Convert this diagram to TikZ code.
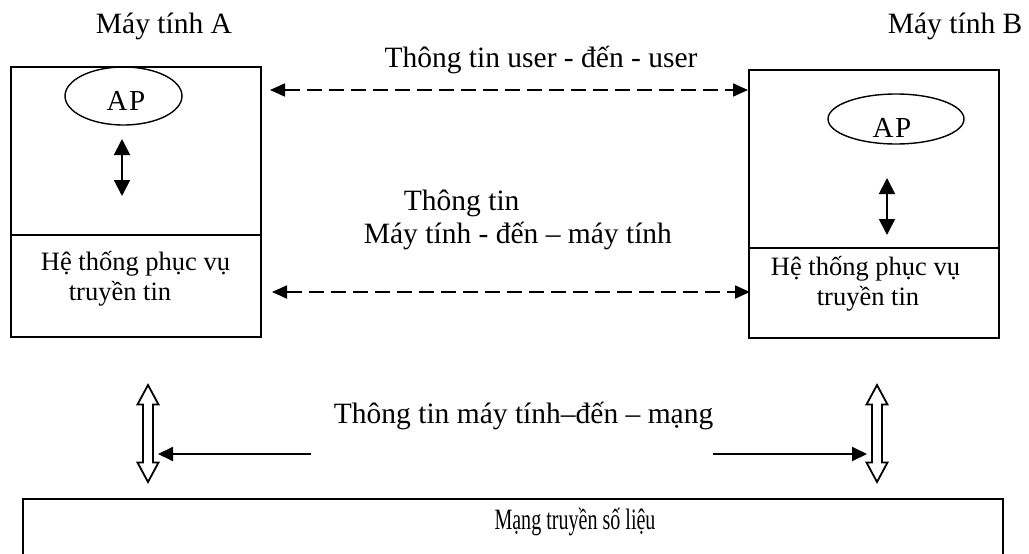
\documentclass[tikz,border=0pt]{standalone}
\usepackage{fontspec}
\usepackage{graphicx}
\setmainfont{Liberation Serif}
\usetikzlibrary{arrows.meta,shapes.geometric}
\begin{document}
\begin{tikzpicture}[x=1pt,y=-1pt, line width=1.8pt,
  txt/.style={font=\fontsize{29.5}{34}\selectfont, inner sep=0pt},
  btxt/.style={font=\fontsize{26.5}{31}\selectfont, inner sep=0pt},
  aptxt/.style={font=\fontsize{29}{33}\selectfont, inner sep=0pt},
  boxx/.style={draw, inner sep=0pt, anchor=north west},
  apell/.style={draw, ellipse, inner sep=0pt, line width=1.4pt},
  soltip/.style={-{Triangle[length=15pt,width=14pt]}},
  vtip/.style={{Triangle[length=16pt,width=16pt]}-{Triangle[length=16pt,width=16pt]}},
  dtip/.style={{Triangle[length=15pt,width=13pt]}-{Triangle[length=15pt,width=13pt]}, dash pattern=on 15pt off 7pt},
  hollowud/.pic={\draw[fill=white, line width=1.8pt, line join=miter]
     (0,-48.5) -- (10.5,-29) -- (5,-29) -- (5,29) -- (10.5,29) -- (0,48.5)
     -- (-10.5,29) -- (-5,29) -- (-5,-29) -- (-10.5,-29) -- cycle;}]
\useasboundingbox (0,0) rectangle (1029,554);
\fill[white] (0,0) rectangle (1029,554);

% boxes
\node[boxx, minimum width=250pt, minimum height=168pt] (Aup) at (10,66) {};
\node[boxx, minimum width=250pt, minimum height=102pt] (Alow) at (10,234) {};
\node[boxx, minimum width=250pt, minimum height=178pt] (Bup) at (748,69) {};
\node[boxx, minimum width=250pt, minimum height=90pt] (Blow) at (748,247) {};
\node[boxx, minimum width=980pt, minimum height=80pt] (net) at (22,498) {};

% titles
\node[txt, anchor=base] (ta) at (164,33) {Máy tính A};
\node[txt, anchor=base west] (tb) at (887,33) {Máy tính B};

% AP ellipses
\node[apell, minimum width=117pt, minimum height=58pt] (apA) at (123.5,96) {};
\node[aptxt, anchor=base] (apAt) at (126,110) {A\kern1.5pt P};
\node[apell, minimum width=136pt, minimum height=50pt] (apB) at (896,119) {};
\node[aptxt, anchor=base] (apBt) at (892,137) {A\kern1.5pt P};

% box texts
\node[btxt, anchor=base west] (sa1) at (40,270) {Hệ thống phục vụ};
\node[btxt, anchor=base] (sa2) at (120,300) {truyền tin};
\node[btxt, anchor=base west] (sb1) at (770,275) {Hệ thống phục vụ};
\node[btxt, anchor=base] (sb2) at (868,305) {truyền tin};

% middle texts
\node[txt, anchor=base] (uu) at (541,67) {Thông tin user - đến - user};
\node[txt, anchor=base west] (mm1) at (403,210) {Thông tin};
\node[txt, anchor=base west] (mm2) at (363,243) {Máy tính - đến – máy tính};
\node[txt, anchor=base west] (mn) at (333,423) {Thông tin máy tính–đến – mạng};
\node[txt, anchor=base] (nett) at (575,529) {\scalebox{0.68}[1]{Mạng truyền số liệu}};

% coordinates
\coordinate (d1a) at (270,90);  \coordinate (d1b) at (748,90);
\coordinate (d2a) at (272,292); \coordinate (d2b) at (750,292);
\coordinate (vA1) at (122,139); \coordinate (vA2) at (122,196);
\coordinate (vB1) at (887,178); \coordinate (vB2) at (887,235);
\coordinate (sL1) at (311,454); \coordinate (sL2) at (158,454);
\coordinate (sR1) at (713,454); \coordinate (sR2) at (867,454);

% connectors
\draw[dtip] (d1a) -- (d1b);
\draw[dtip] (d2a) -- (d2b);
\draw[vtip] (vA1) -- (vA2);
\draw[vtip] (vB1) -- (vB2);
\draw[soltip] (sL1) -- (sL2);
\draw[soltip] (sR1) -- (sR2);

% hollow double arrows
\pic at (148,433.5) {hollowud};
\pic at (877,433.5) {hollowud};
\end{tikzpicture}
\end{document}
